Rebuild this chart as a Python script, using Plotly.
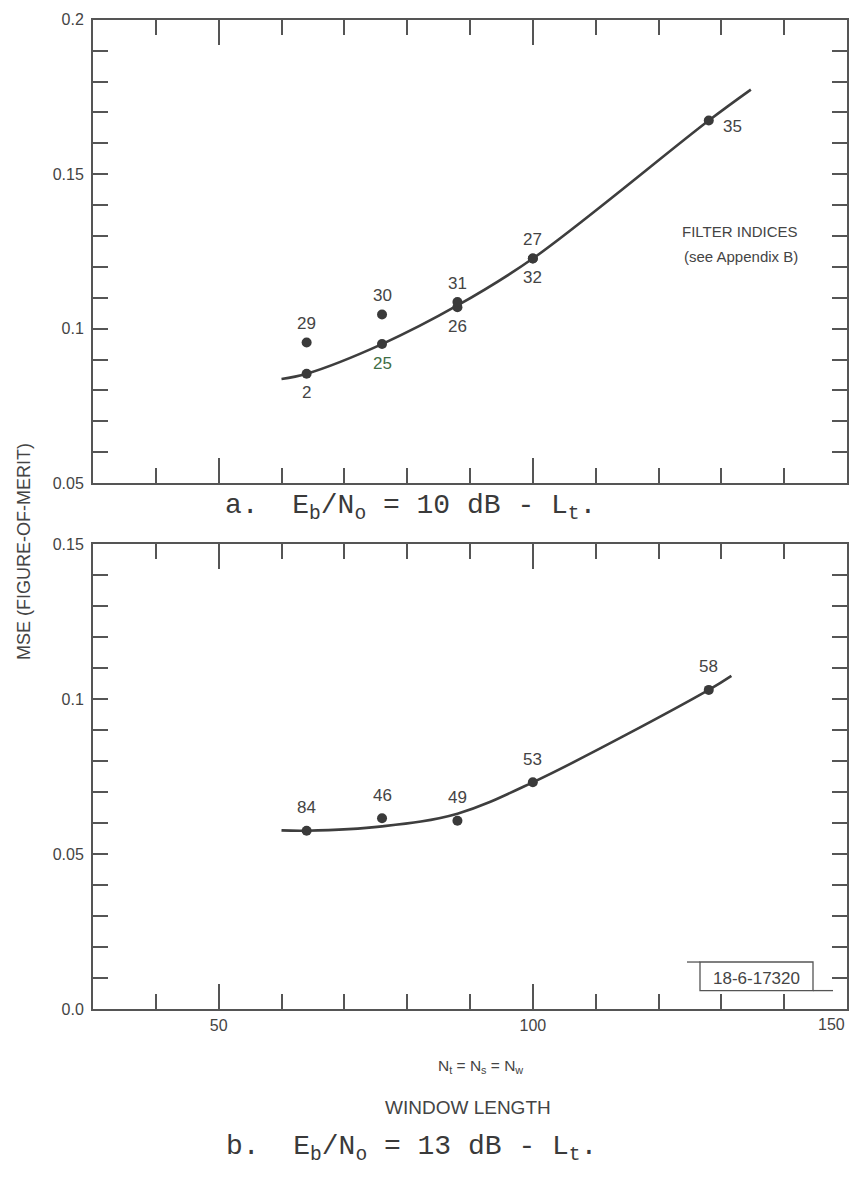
import plotly.graph_objects as go

# ---------------- data ----------------
# panel a (Eb/No = 10 dB)
a_x = [64, 64, 76, 76, 88, 88, 100, 100, 128]
a_y = [0.0854, 0.0955, 0.0950, 0.1046, 0.1069, 0.1086, 0.1227, 0.1227, 0.1674]
a_labels = ["2", "29", "25", "30", "26", "31", "32", "27", "35"]
a_label_pos = ["below", "above", "below", "above", "below", "above", "below", "above", "right"]
a_curve_x = [60, 64, 76, 88, 100, 128, 134.7]
a_curve_y = [0.0837, 0.0854, 0.0950, 0.1075, 0.1227, 0.1674, 0.1774]

# panel b (Eb/No = 13 dB)
b_x = [64, 76, 88, 100, 128]
b_y = [0.0576, 0.0616, 0.0608, 0.0732, 0.1030]
b_labels = ["84", "46", "49", "53", "58"]
b_label_pos = ["above", "above", "above", "above", "above"]
b_curve_x = [60, 64, 76, 88, 100, 128, 131.6]
b_curve_y = [0.0577, 0.0576, 0.0590, 0.0631, 0.0732, 0.1030, 0.1075]

x_ticks = [50, 100, 150]
a_yticks = [0.05, 0.1, 0.15, 0.2]
b_yticks = [0.0, 0.05, 0.1, 0.15]
b_ytext = ["0.0", "0.05", "0.1", "0.15"]

# ---------------- style ----------------
W, H = 851, 1177
INK = "#444444"
AX = "#555555"
FONT = "Liberation Sans"
MONO = "Liberation Mono"

def py(p):
    return 1 - p / H

def px(p):
    return p / W

XDOM = [px(93), px(847)]
A_DOM = [py(482), py(12)]
B_DOM = [py(1016), py(544)]

fig = go.Figure()

# curves
fig.add_trace(go.Scatter(x=a_curve_x, y=a_curve_y, mode="lines", line=dict(color="#3e3e3e", width=2.6, shape="spline", smoothing=1.0),
                         xaxis="x", yaxis="y", hoverinfo="skip", showlegend=False))
fig.add_trace(go.Scatter(x=b_curve_x, y=b_curve_y, mode="lines", line=dict(color="#3e3e3e", width=2.6, shape="spline", smoothing=1.0),
                         xaxis="x2", yaxis="y2", hoverinfo="skip", showlegend=False))
# points
fig.add_trace(go.Scatter(x=a_x, y=a_y, mode="markers", marker=dict(color="#3a3a3a", size=10),
                         xaxis="x", yaxis="y", showlegend=False))
fig.add_trace(go.Scatter(x=b_x, y=b_y, mode="markers", marker=dict(color="#3a3a3a", size=10),
                         xaxis="x2", yaxis="y2", showlegend=False))

shift = {"above": (0, 19), "below": (0, -19), "right": (24, -6)}
annotations = []
for xs, ys, labs, poss, xr, yr in [(a_x, a_y, a_labels, a_label_pos, "x", "y"),
                                   (b_x, b_y, b_labels, b_label_pos, "x2", "y2")]:
    for xv, yv, lab, pos in zip(xs, ys, labs, poss):
        dx, dy = shift[pos]
        if yr == "y2":
            dy = 23
        col = "#3f6e45" if lab == "25" else INK
        annotations.append(dict(x=xv, y=yv, xref=xr, yref=yr, text=lab, showarrow=False,
                                xshift=dx, yshift=dy, font=dict(family=FONT, size=17, color=col)))

# texts
annotations += [
    dict(x=px(800), y=py(216), xref="paper", yref="paper", text="FILTER INDICES", showarrow=False,
         xanchor="right", font=dict(family=FONT, size=15, color=INK)),
    dict(x=px(800), y=py(241), xref="paper", yref="paper", text="(see Appendix B)", showarrow=False,
         xanchor="right", font=dict(family=FONT, size=15, color=INK)),
    dict(x=px(410), y=py(507), xref="paper", yref="paper",
         text="a.&nbsp;&nbsp;E<sub>b</sub>/N<sub>o</sub> = 10 dB - L<sub>t</sub>.", showarrow=False,
         font=dict(family=MONO, size=28, color="#3a3a3a")),
    dict(x=px(411), y=py(1177), xref="paper", yref="paper", yanchor="bottom",
         text="b.&nbsp;&nbsp;E<sub>b</sub>/N<sub>o</sub> = 13 dB - L<sub>t</sub>.", showarrow=False,
         font=dict(family=MONO, size=28, color="#3a3a3a")),
    dict(x=px(480), y=py(1086), xref="paper", yref="paper",
         text="N<sub>t</sub> = N<sub>s</sub> = N<sub>w</sub>", showarrow=False,
         font=dict(family=FONT, size=15.5, color=INK)),
    dict(x=px(468), y=py(1128), xref="paper", yref="paper", text="WINDOW LENGTH", showarrow=False,
         font=dict(family=FONT, size=19, color=INK)),
    dict(x=px(12), y=py(552), xref="paper", yref="paper", text="MSE (FIGURE-OF-MERIT)", showarrow=False,
         textangle=-90, font=dict(family=FONT, size=18, color=INK)),
    dict(x=150, y=0, xref="x2", yref="y2", text=str(x_ticks[-1]), showarrow=False, xanchor="right",
         yanchor="top", yshift=-5, font=dict(family=FONT, size=16, color=INK)),
]

shapes = [
    dict(type="rect", xref="paper", yref="paper", x0=px(700), x1=px(813), y0=py(997), y1=py(968),
         line=dict(color=AX, width=1.3),
         label=dict(text="18-6-17320", textposition="middle center",
                    font=dict(family=FONT, size=17, color=INK))),
    dict(type="line", xref="paper", yref="paper", x0=px(687), x1=px(700), y0=py(968), y1=py(968),
         line=dict(color=AX, width=1.3)),
    dict(type="line", xref="paper", yref="paper", x0=px(813), x1=px(833), y0=py(997), y1=py(997),
         line=dict(color=AX, width=1.3)),
]

tickfont = dict(family=FONT, size=16, color=INK)

def xaxis(dom_anchor, labels):
    return dict(domain=XDOM, anchor=dom_anchor, range=[30, 150], tickmode="array",
                tickvals=x_ticks[:2], ticktext=[str(v) for v in x_ticks[:2]],
                showticklabels=labels, ticks="inside", ticklen=25, tickwidth=1.6, tickcolor=AX,
                minor=dict(tickmode="linear", tick0=0, dtick=10, ticks="inside", ticklen=15, tickwidth=1.6, tickcolor=AX),
                showline=True, linecolor=AX, linewidth=2, mirror="allticks", showgrid=False, zeroline=False,
                tickfont=tickfont, fixedrange=True)

def yaxis(dom, anchor, rng, vals, text):
    return dict(domain=dom, anchor=anchor, range=rng, tickmode="array", tickvals=vals, ticktext=text,
                ticks="inside", ticklen=15, tickwidth=1.6, tickcolor=AX,
                minor=dict(tickmode="linear", tick0=0, dtick=0.01, ticks="inside", ticklen=15, tickwidth=1.6, tickcolor=AX),
                showline=True, linecolor=AX, linewidth=2, mirror="allticks", showgrid=False, zeroline=False,
                tickfont=tickfont, ticklabelstandoff=4, fixedrange=True)

def long_tick(overlay, anchor, rng):
    return dict(overlaying=overlay, anchor=anchor, range=rng, tickmode="array", tickvals=[0.1],
                showticklabels=False, ticks="inside", ticklen=24, tickwidth=1.6, tickcolor=AX,
                showline=False, mirror="ticks", showgrid=False, zeroline=False, fixedrange=True)

fig.update_layout(
    width=W, height=H, margin=dict(l=0, r=0, t=0, b=0),
    paper_bgcolor="white", plot_bgcolor="white", showlegend=False,
    xaxis=xaxis("y", False),
    yaxis=yaxis(A_DOM, "x", [0.05, 0.2], a_yticks, [f"{v:g}" for v in a_yticks]),
    xaxis2=xaxis("y2", True),
    yaxis2=yaxis(B_DOM, "x2", [0.0, 0.15], b_yticks, b_ytext),
    yaxis3=long_tick("y", "x", [0.05, 0.2]),
    yaxis4=long_tick("y2", "x2", [0.0, 0.15]),
    annotations=annotations, shapes=shapes,
)

fig.write_html("out.html", config={"displayModeBar": False},
               post_script="document.body.style.margin='0px';document.body.style.overflow='hidden';")
